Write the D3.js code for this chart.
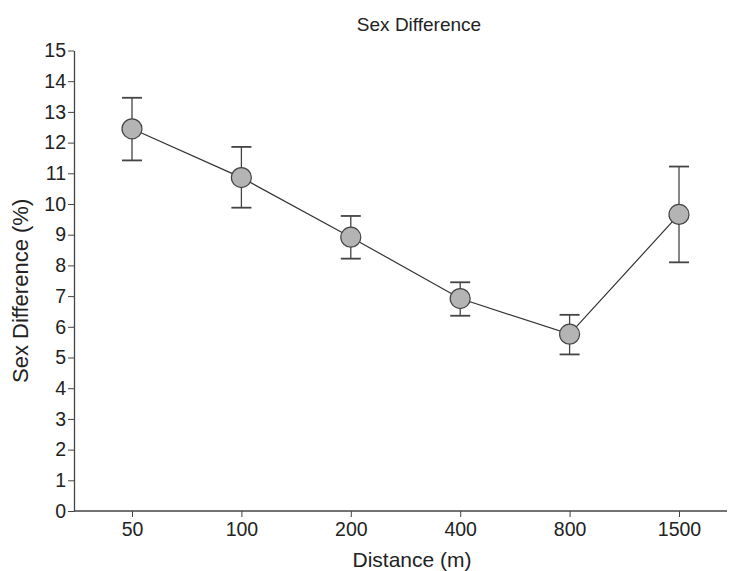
<!DOCTYPE html>
<html>
<head>
<meta charset="utf-8">
<script src="https://cdn.jsdelivr.net/npm/d3@7"></script>
<style>
  body { margin: 0; background: #fff; }
  text { font-family: "Liberation Sans", Arial, sans-serif; fill: #222; }
</style>
</head>
<body>
<svg id="chart" width="754" height="571"></svg>
<script>
// distances and mean sex difference (%) with error bar ends
const distances = ['50', '100', '200', '400', '800', '1500'];
const meanDiff = [12.45, 10.86, 8.92, 6.92, 5.76, 9.66];
const errLow = [11.42, 9.88, 8.22, 6.36, 5.1, 8.1];
const errHigh = [13.46, 11.86, 9.61, 7.45, 6.39, 11.22];
const yTicks = d3.range(0, 16);

const svg = d3.select('#chart');

const plotLeft = 74, plotRight = 727, plotTop = 50.5, plotBottom = 511;

const x = d3.scalePoint()
  .domain(distances)
  .range([132, 679]);

const y = d3.scaleLinear()
  .domain([0, 15])
  .range([plotBottom, plotTop]);

// y axis
const yAxis = svg.append('g')
  .attr('transform', `translate(${plotLeft},0)`)
  .call(d3.axisLeft(y).tickValues(yTicks).tickSize(6).tickSizeOuter(0));
yAxis.select('.domain').attr('stroke', '#444').attr('stroke-width', 1.3);
yAxis.selectAll('.tick line').attr('stroke', '#444');
yAxis.selectAll('.tick text')
  .attr('font-size', '19.5px')
  .attr('x', -8)
  .style('fill', '#222');

// x axis
svg.append('line')
  .attr('x1', plotLeft).attr('x2', plotRight)
  .attr('y1', plotBottom).attr('y2', plotBottom)
  .attr('stroke', '#444').attr('stroke-width', 1.3);
const xAxis = svg.append('g')
  .attr('transform', `translate(0,${plotBottom})`)
  .call(d3.axisBottom(x).tickSize(6).tickSizeOuter(0));
xAxis.select('.domain').remove();
xAxis.selectAll('.tick line').attr('stroke', '#444');
xAxis.selectAll('.tick text')
  .attr('font-size', '19.5px')
  .attr('y', 11)
  .style('fill', '#222');

// titles
svg.append('text')
  .attr('x', 419).attr('y', 31)
  .attr('text-anchor', 'middle')
  .attr('font-size', '19px')
  .text('Sex Difference');

svg.append('text')
  .attr('x', 412).attr('y', 567)
  .attr('text-anchor', 'middle')
  .attr('font-size', '21px')
  .text('Distance (m)');

svg.append('text')
  .attr('transform', 'translate(28,383) rotate(-90)')
  .attr('text-anchor', 'start')
  .attr('font-size', '22px')
  .text('Sex Difference (%)');

const pts = distances.map((d, i) => ({ d, m: meanDiff[i], lo: errLow[i], hi: errHigh[i] }));

// error bars
const eb = svg.append('g').attr('stroke', '#444').attr('stroke-width', 1.3);
pts.forEach(p => {
  eb.append('line')
    .attr('x1', x(p.d)).attr('x2', x(p.d))
    .attr('y1', y(p.lo)).attr('y2', y(p.hi));
  [p.lo, p.hi].forEach(v => {
    eb.append('line')
      .attr('x1', x(p.d) - 10).attr('x2', x(p.d) + 10)
      .attr('y1', y(v)).attr('y2', y(v))
      .attr('stroke-width', 1.8);
  });
});

// connecting line
svg.append('path')
  .datum(pts)
  .attr('fill', 'none')
  .attr('stroke', '#333')
  .attr('stroke-width', 1.2)
  .attr('d', d3.line().x(p => x(p.d)).y(p => y(p.m)));

// markers
svg.selectAll('circle.pt')
  .data(pts)
  .join('circle')
  .attr('class', 'pt')
  .attr('cx', p => x(p.d))
  .attr('cy', p => y(p.m))
  .attr('r', 10)
  .attr('fill', '#b4b4b4')
  .attr('stroke', '#444')
  .attr('stroke-width', 1.2);
</script>
</body>
</html>
